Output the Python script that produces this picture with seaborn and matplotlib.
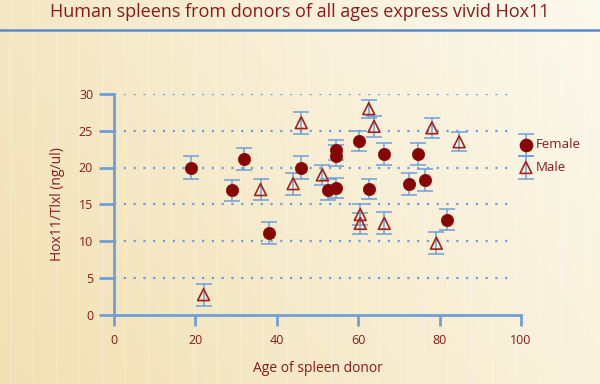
import numpy as np
import pandas as pd
import matplotlib
matplotlib.use("Agg")
import matplotlib.pyplot as plt
import seaborn as sns

# ---- data ----
female_age = [19, 29, 32, 38, 46, 52.6, 54.5, 54.5, 54.5, 60.2, 62.7, 66.3, 72.6, 74.7, 76.4, 81.7]
female_val = [20.0, 16.9, 21.1, 11.1, 20.0, 17.0, 17.2, 22.4, 21.6, 23.6, 17.1, 21.9, 17.7, 21.9, 18.3, 12.9]
female_err = [1.5, 1.4, 1.5, 1.5, 1.5, 1.4, 1.4, 1.4, 1.4, 1.4, 1.4, 1.5, 1.5, 1.5, 1.5, 1.4]

male_age = [22, 36, 44, 46, 51.2, 60.5, 60.5, 62.6, 63.9, 66.4, 78.1, 79.2, 84.8]
male_val = [2.7, 17.0, 17.8, 26.1, 19.0, 13.6, 12.4, 28.0, 25.6, 12.4, 25.4, 9.7, 23.5]
male_err = [1.5, 1.4, 1.5, 1.5, 1.4, 1.4, 1.4, 1.2, 1.4, 1.5, 1.4, 1.5, 1.3]

x_ticks = [0, 20, 40, 60, 80, 100]
y_ticks = [0, 5, 10, 15, 20, 25, 30]
title = "Human spleens from donors of all ages express vivid Hox11"
xlabel = "Age of spleen donor"
ylabel = "Hox11/Tlxl (ng/ul)"

df = pd.DataFrame({
    "age": female_age + male_age,
    "val": female_val + male_val,
    "err": female_err + male_err,
    "sex": ["Female"] * len(female_age) + ["Male"] * len(male_age),
})

sns.set_theme(style="white")
plt.rcParams["font.family"] = ["Open Sans", "DejaVu Sans"]

RED = "#860606"
BLUE = "#6f9fd8"
TXT = "#8b1a1a"
MS_C = 78
MS_T = 72

fig = plt.figure(figsize=(6, 3.84), dpi=100)

# background gradient
bg = fig.add_axes([0, 0, 1, 1], zorder=-10)
h, w = 384, 600
yy, xx = np.mgrid[0:h, 0:w]
t = np.clip((xx / w) * 0.7 + (1 - yy / h) * 0.3, 0, 1)
c1 = np.array([241, 224, 178]) / 255.0
c2 = np.array([252, 249, 238]) / 255.0
img = c1[None, None, :] * (1 - t[..., None]) + c2[None, None, :] * t[..., None]
bg.imshow(img, extent=[0, w, h, 0], aspect="auto")
for vx in range(10, 600, 23):
    bg.axvline(vx, color="white", lw=0.6, alpha=0.3)
bg.plot([0, 600], [30, 30], color="#5b8bc9", lw=1.8)
bg.set_xlim(0, w)
bg.set_ylim(h, 0)
bg.axis("off")

fig.text(0.5, 1 - 12 / 384, title, ha="center", va="center", color=TXT, fontsize=13)

ax = fig.add_axes([114 / 600, 1 - 314.5 / 384, (521 - 114) / 600, (314.5 - 94) / 384])
ax.patch.set_alpha(0)

# dotted grid
for yv in y_ticks[1:]:
    ax.plot([0, 98], [yv, yv], ls=(0, (1, 3.4)), color=BLUE, lw=1.6, zorder=1)

ax.errorbar(df["age"], df["val"], yerr=df["err"], fmt="none", ecolor=BLUE,
            elinewidth=1.1, capsize=6, capthick=1.1, zorder=2)

sns.scatterplot(data=df[df.sex == "Female"], x="age", y="val", ax=ax, marker="o",
                s=MS_C, color=RED, edgecolor=RED, linewidth=0.5, zorder=3, legend=False)
sns.scatterplot(data=df[df.sex == "Male"], x="age", y="val", ax=ax, marker="^",
                s=MS_T, facecolor="none", edgecolor="#a32020", linewidth=1.2, zorder=3,
                legend=False)

ax.set_xlim(0, 100)
ax.set_ylim(0, 30)
ax.set_xticks(x_ticks)
ax.set_yticks(y_ticks)
ax.set_xlabel(xlabel, color=TXT, fontsize=10, labelpad=10)
ax.set_ylabel(ylabel, color=TXT, fontsize=10, labelpad=10)
for s in ["top", "right"]:
    ax.spines[s].set_visible(False)
for s in ["left", "bottom"]:
    ax.spines[s].set_color(BLUE)
    ax.spines[s].set_linewidth(2)
ax.tick_params(axis="y", direction="out", length=11, width=2, color=BLUE,
               labelcolor=TXT, labelsize=9, pad=4, left=True)
ax.tick_params(axis="x", direction="out", length=8, width=2, color=BLUE,
               labelcolor=TXT, labelsize=9, pad=6, bottom=True)
ax.grid(False)

# legend drawn manually (axes-fraction coordinates)
lx = 1.012
for yv, mk, lab in [(23.1, "o", "Female"), (20.0, "^", "Male")]:
    ax.errorbar([lx], [yv / 30], yerr=[1.5 / 30], fmt="none", ecolor=BLUE,
                elinewidth=1.1, capsize=6, capthick=1.1, transform=ax.transAxes,
                clip_on=False, zorder=2)
    if mk == "o":
        ax.scatter([lx], [yv / 30], marker="o", s=MS_C, color=RED, transform=ax.transAxes,
                   clip_on=False, zorder=3)
    else:
        ax.scatter([lx], [yv / 30], marker="^", s=MS_T, facecolor="none", edgecolor="#a32020",
                   linewidth=1.2, transform=ax.transAxes, clip_on=False, zorder=3)
    ax.text(lx + 0.025, yv / 30, lab, transform=ax.transAxes, color=TXT, fontsize=9.5,
            va="center", ha="left")

fig.savefig("out.png", dpi=100)
